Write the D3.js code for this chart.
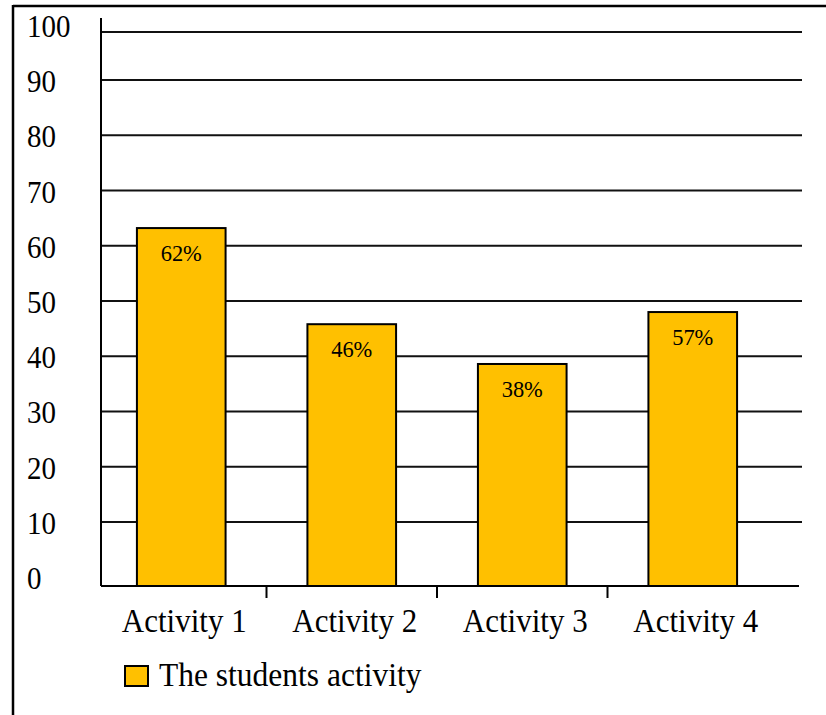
<!DOCTYPE html>
<html>
<head>
<meta charset="utf-8">
<script src="https://cdn.jsdelivr.net/npm/d3@7"></script>
<style>
  html, body { margin: 0; padding: 0; background: #fff; }
  svg { display: block; }
  text { font-family: "Liberation Serif", "Times New Roman", serif; fill: #000; }
</style>
</head>
<body>
<script>
// ---- data ----
const categories = ["Activity 1", "Activity 2", "Activity 3", "Activity 4"];
const values = [63.2, 45.8, 38.6, 48.0];
const valueLabels = ["62%", "46%", "38%", "57%"];
const yTicks = [0, 10, 20, 30, 40, 50, 60, 70, 80, 90, 100];
const seriesName = "The students activity";

// ---- layout ----
const W = 826, H = 715;
const barColor = "#FFC000";
const axisX = 101, axisRight = 799, gridRight = 802, plotBottom = 586, plotTop = 18;
const stretch = 1.1; // text in the reference is slightly taller than wide

const svg = d3.select("body").append("svg").attr("width", W).attr("height", H);

// frame (cropped box)
svg.append("line").attr("x1", 13).attr("x2", W).attr("y1", 6).attr("y2", 6)
  .attr("stroke", "#000").attr("stroke-width", 2.5);
svg.append("line").attr("x1", 13).attr("x2", 13).attr("y1", 5).attr("y2", H)
  .attr("stroke", "#000").attr("stroke-width", 2.5);

// scales
const y = d3.scaleLinear().domain([0, 10, 90, 100]).range([plotBottom, 522, 80, 32]);
const yLab = d3.scaleLinear().domain([0, 100]).range([578, 26]);
const x = d3.scaleBand().domain(categories).range([96, 778]).paddingInner(0.48).paddingOuter(0.24);

function place(sel, fx, fy, k) {
  sel.attr("transform", (d, i) => `translate(${fx(d, i)},${fy(d, i)}) scale(1,${k})`);
}

// gridlines
svg.append("g").selectAll("line").data(yTicks.filter(d => d > 0)).join("line")
  .attr("x1", axisX).attr("x2", gridRight)
  .attr("y1", d => y(d)).attr("y2", d => y(d))
  .attr("stroke", "#111").attr("stroke-width", 2);

// y labels
svg.append("g").selectAll("text").data(yTicks).join("text")
  .attr("font-size", 29)
  .call(place, () => 27, d => yLab(d) + 11, 1.12)
  .text(d => d);

// bars
svg.append("g").selectAll("rect").data(values).join("rect")
  .attr("x", (d, i) => x(categories[i]))
  .attr("width", x.bandwidth())
  .attr("y", d => y(d))
  .attr("height", d => plotBottom - y(d))
  .attr("fill", barColor).attr("stroke", "#000").attr("stroke-width", 2);

// value labels
svg.append("g").selectAll("text").data(values).join("text")
  .attr("text-anchor", "middle").attr("font-size", 22.5)
  .call(place, (d, i) => x(categories[i]) + x.bandwidth() / 2, d => y(d) + 33, 1.05)
  .text((d, i) => valueLabels[i]);

// axes lines
svg.append("line").attr("x1", axisX).attr("x2", axisX).attr("y1", plotTop).attr("y2", plotBottom)
  .attr("stroke", "#000").attr("stroke-width", 2);
svg.append("line").attr("x1", axisX).attr("x2", axisRight).attr("y1", plotBottom).attr("y2", plotBottom)
  .attr("stroke", "#000").attr("stroke-width", 2);

// x ticks between categories
const step = x.step();
svg.append("g").selectAll("line").data(categories.slice(1)).join("line")
  .attr("x1", d => x(d) - step * x.paddingInner() / 2)
  .attr("x2", d => x(d) - step * x.paddingInner() / 2)
  .attr("y1", plotBottom).attr("y2", plotBottom + 12)
  .attr("stroke", "#000").attr("stroke-width", 2);

// x labels
svg.append("g").selectAll("text").data(categories).join("text")
  .attr("text-anchor", "middle").attr("font-size", 31)
  .call(place, d => x(d) + x.bandwidth() / 2 + 3, () => 632, stretch)
  .text(d => d);

// legend
svg.append("rect").attr("x", 125).attr("y", 666).attr("width", 23).attr("height", 20)
  .attr("fill", barColor).attr("stroke", "#000").attr("stroke-width", 2);
svg.append("text").attr("font-size", 31.5)
  .attr("transform", `translate(159,686) scale(1,${stretch})`)
  .text(seriesName);
</script>
</body>
</html>
